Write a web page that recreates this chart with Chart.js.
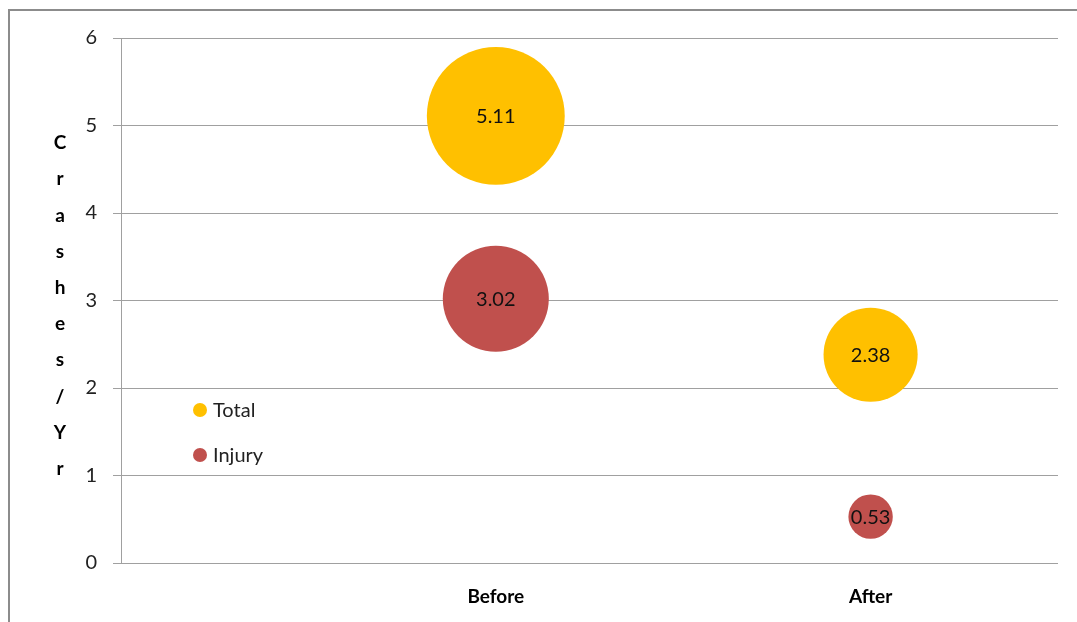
<!DOCTYPE html>
<html>
<head>
<meta charset="utf-8">
<script src="https://cdn.jsdelivr.net/npm/chart.js@4"></script>
<style>
  html, body { margin: 0; padding: 0; background: #fff; overflow: hidden; }
  #wrap { position: relative; width: 1077px; height: 622px; }
  #frame { position: absolute; left: 8px; top: 9px; width: 1200px; height: 800px; border: 2px solid #8c8c8c; box-sizing: border-box; }
  canvas { position: absolute; left: 0; top: 0; }
</style>
</head>
<body>
<div id="wrap">
  <div id="frame"></div>
  <canvas id="chart" width="1077" height="622"></canvas>
</div>
<script>
// datos
const categories = ["Before", "After"];
const seriesNames = ["Total", "Injury"];
const totalValues = [5.11, 2.38];
const injuryValues = [3.02, 0.53];
const yTicks = [0, 1, 2, 3, 4, 5, 6];
const yTitle = "Crashes/Yr";

const colores = ["#FFC000", "#C0504D"];
const fuente = "Lato, 'Open Sans', sans-serif";

function puntos(vals) {
  return vals.map((v, i) => ({ x: i + 1, y: v }));
}

// etiquetas dentro de cada burbuja, leyenda y titulo del eje Y
const extras = {
  id: "extras",
  afterDatasetsDraw(chart) {
    const ctx = chart.ctx;
    ctx.save();
    ctx.fillStyle = "#111";
    ctx.font = "20px " + fuente;
    ctx.textAlign = "center";
    ctx.textBaseline = "middle";
    chart.data.datasets.forEach((ds, di) => {
      chart.getDatasetMeta(di).data.forEach((el, i) => {
        ctx.fillText(ds.data[i].y.toFixed(2), el.x, el.y + 1);
      });
    });

    // leyenda
    ctx.textAlign = "left";
    ctx.font = "20px " + fuente;
    chart.data.datasets.forEach((ds, di) => {
      const y = 410 + di * 45;
      ctx.beginPath();
      ctx.arc(200, y, 7, 0, Math.PI * 2);
      ctx.fillStyle = ds.backgroundColor;
      ctx.fill();
      ctx.fillStyle = "#222";
      ctx.fillText(ds.label, 213, y + 1);
    });

    // titulo vertical, una letra por linea
    ctx.textAlign = "center";
    ctx.font = "bold 19px " + fuente;
    ctx.fillStyle = "#000";
    const letras = yTitle.split("");
    letras.forEach((l, i) => {
      ctx.fillText(l, 60, 143 + i * 36.2);
    });
    ctx.restore();
  },
};

new Chart(document.getElementById("chart"), {
  type: "bubble",
  data: {
    datasets: [
      {
        label: seriesNames[0],
        data: puntos(totalValues),
        backgroundColor: colores[0],
        borderWidth: 0,
      },
      {
        label: seriesNames[1],
        data: puntos(injuryValues),
        backgroundColor: colores[1],
        borderWidth: 0,
      },
    ],
  },
  options: {
    responsive: false,
    animation: false,
    layout: { autoPadding: false, padding: { left: 0, top: 38, right: 19, bottom: 0 } },
    elements: {
      point: {
        radius: (c) => 30.5 * Math.sqrt(c.raw.y),
        hoverRadius: 0,
      },
    },
    scales: {
      x: {
        type: "linear",
        min: 0,
        max: 2.5,
        afterBuildTicks: (s) => {
          s.ticks = categories.map((c, i) => ({ value: i + 1 }));
        },
        afterFit: (s) => { s.height = 59; },
        grid: { display: false },
        border: { display: false },
        ticks: {
          padding: 14,
          color: "#000",
          font: { family: fuente, size: 19, weight: "bold" },
          callback: (v) => categories[v - 1],
        },
      },
      y: {
        min: 0,
        max: 6,
        afterBuildTicks: (s) => {
          s.ticks = yTicks.map((v) => ({ value: v }));
        },
        afterFit: (s) => { s.width = 121; },
        grid: { color: "#a0a0a0", lineWidth: 1, tickLength: 8 },
        border: { color: "#a0a0a0", width: 1 },
        ticks: {
          padding: 16,
          color: "#222",
          font: { family: fuente, size: 20 },
        },
      },
    },
    plugins: {
      legend: { display: false },
      tooltip: { enabled: false },
    },
  },
  plugins: [extras],
});
</script>
</body>
</html>
